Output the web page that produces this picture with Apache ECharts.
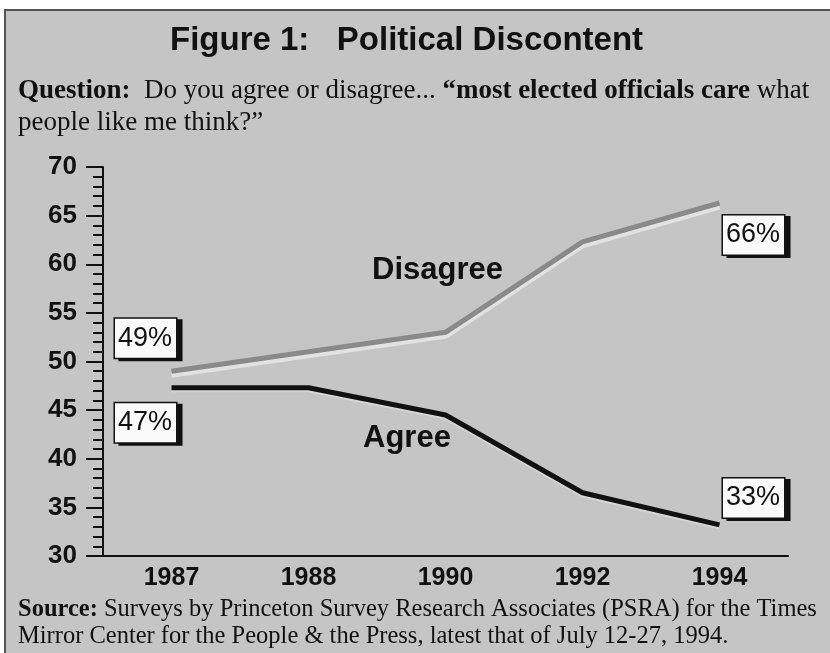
<!DOCTYPE html>
<html lang="en">

<head>
    <meta charset="UTF-8">
    <title>Political Discontent</title>
    <script src="https://cdn.jsdelivr.net/npm/echarts@6/dist/echarts.min.js"></script>
    <style type="text/css">
    body {
        margin: 0;
        background: #fff;
    }
    .chart-content {
        width: 830px;
        height: 653px;
    }
    </style>
</head>

<body>
    <div id="main" class="chart-content"></div>
    <script type="text/javascript">
        // survey years (drawn evenly spaced, as in the print)
        var years = ['1987', '1988', '1990', '1992', '1994'];
        // percent of respondents
        var disagree = [49, 51, 53, 62.3, 66.3];
        var agree = [47.3, 47.3, 44.5, 36.5, 33.2];
        var disagreeTags = ['49%', '', '', '', '66%'];
        var agreeTags = ['47%', '', '', '', '33%'];
        var yTicks = [30, 35, 40, 45, 50, 55, 60, 65, 70];

        var sans = 'Liberation Sans, Arial, Helvetica, sans-serif';
        var serif = 'Liberation Serif, Times New Roman, serif';

        var boxLabel = {
            show: true,
            position: 'inside',
            align: 'center',
            verticalAlign: 'middle',
            fontFamily: sans,
            fontSize: 27,
            color: '#111',
            backgroundColor: '#fafafa',
            borderColor: '#111',
            borderWidth: 1.5,
            padding: [7, 4, 5, 3],
            shadowColor: '#111',
            shadowOffsetX: 5,
            shadowOffsetY: 2,
            shadowBlur: 0
        };

        // 数据点 + 两端的百分比标签
        function buildData(values, tags, offsets) {
            var out = [];
            for (var i = 0; i < values.length; i++) {
                var item = { value: values[i] };
                if (tags[i]) {
                    item.label = Object.assign({}, boxLabel, {
                        formatter: tags[i],
                        offset: offsets[i]
                    });
                }
                out.push(item);
            }
            return out;
        }

        var myChart = echarts.init(document.getElementById('main'));

        var option = {
            backgroundColor: '#fff',
            animation: false,
            grid: {
                left: 103,
                right: 42,
                top: 167,
                bottom: 97
            },
            graphic: [{
                type: 'rect',
                z: -10,
                silent: true,
                shape: { x: 5, y: 10, width: 840, height: 660 },
                style: { fill: '#c5c5c5', stroke: '#555', lineWidth: 2 }
            }, {
                type: 'text',
                left: 170,
                top: 24,
                style: {
                    text: 'Figure 1:   Political Discontent',
                    font: 'bold 33px ' + sans,
                    fill: '#111'
                }
            }, {
                type: 'text',
                left: 18,
                top: 75,
                style: {
                    text: '{b|Question:}  Do you agree or disagree... {b|\u201cmost elected officials care} what\npeople like me think?\u201d',
                    font: '27px ' + serif,
                    fill: '#111',
                    lineHeight: 32,
                    rich: {
                        b: { font: 'bold 27px ' + serif, fill: '#111' }
                    }
                }
            }, {
                type: 'text',
                left: 372,
                top: 255,
                style: { text: 'Disagree', font: 'bold 31px ' + sans, fill: '#111' }
            }, {
                type: 'text',
                left: 363,
                top: 423,
                style: { text: 'Agree', font: 'bold 31px ' + sans, fill: '#111' }
            }, {
                type: 'text',
                left: 18,
                top: 596,
                style: {
                    text: '{b|Source:} Surveys by Princeton Survey Research Associates (PSRA) for the Times\nMirror Center for the People & the Press, latest that of July 12-27, 1994.',
                    font: '24.5px ' + serif,
                    fill: '#111',
                    lineHeight: 27,
                    rich: {
                        b: { font: 'bold 24.5px ' + serif, fill: '#111' }
                    }
                }
            }],
            xAxis: {
                type: 'category',
                data: years,
                boundaryGap: true,
                axisLine: { lineStyle: { color: '#111', width: 2 } },
                axisTick: { show: false },
                axisLabel: {
                    color: '#111',
                    fontFamily: sans,
                    fontWeight: 'bold',
                    fontSize: 25,
                    margin: 10
                }
            },
            yAxis: {
                type: 'value',
                min: 30,
                max: 70,
                interval: 5,
                splitLine: { show: false },
                axisLine: { show: true, lineStyle: { color: '#111', width: 2 } },
                axisTick: { show: true, length: 17, lineStyle: { color: '#111', width: 2 } },
                minorTick: { show: true, splitNumber: 5, length: 10, lineStyle: { color: '#111', width: 2 } },
                axisLabel: {
                    color: '#111',
                    fontFamily: sans,
                    fontWeight: 'bold',
                    fontSize: 26,
                    margin: 26,
                    formatter: function (v) {
                        return yTicks.indexOf(v) >= 0 ? String(v) : '';
                    }
                }
            },
            series: [{
                name: 'Disagree',
                type: 'line',
                data: buildData(disagree, disagreeTags, [[-26, -33], 0, 0, 0, [34, 32]]),
                symbol: 'circle',
                symbolSize: 1,
                showSymbol: true,
                itemStyle: { color: 'rgba(0,0,0,0)' },
                lineStyle: {
                    color: '#8a8a8a',
                    width: 5,
                    shadowColor: '#e2e2e2',
                    shadowOffsetY: 4,
                    shadowBlur: 0
                }
            }, {
                name: 'Agree',
                type: 'line',
                data: buildData(agree, agreeTags, [[-26, 35], 0, 0, 0, [34, -27]]),
                symbol: 'circle',
                symbolSize: 1,
                showSymbol: true,
                itemStyle: { color: 'rgba(0,0,0,0)' },
                lineStyle: {
                    color: '#111',
                    width: 5,
                    shadowColor: '#d6d6d6',
                    shadowOffsetY: 2,
                    shadowBlur: 0
                }
            }]
        };

        myChart.setOption(option);
    </script>
</body>

</html>
